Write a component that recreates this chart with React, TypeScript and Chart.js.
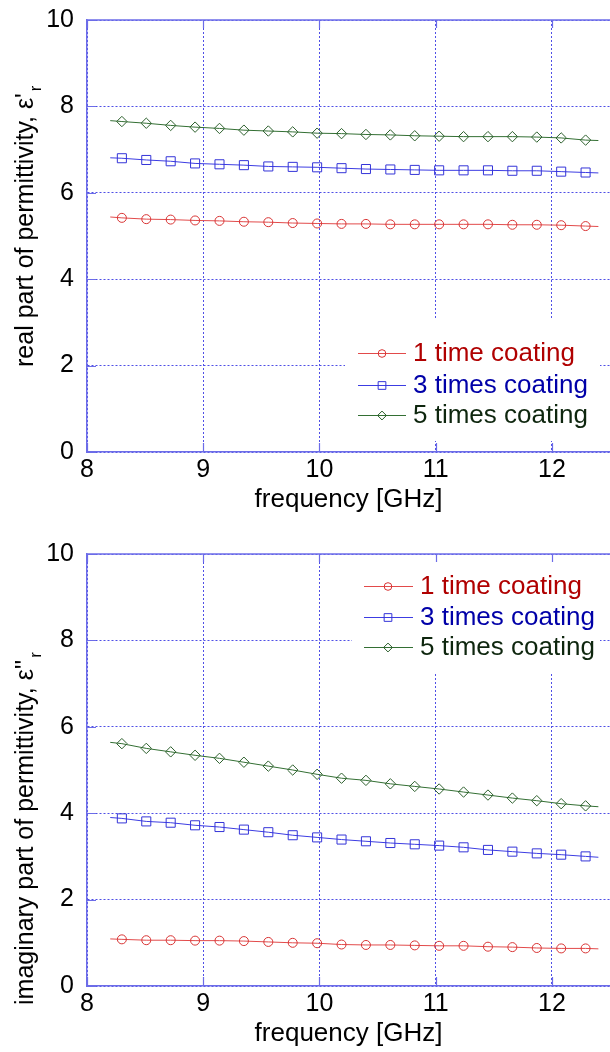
import React, { useEffect, useRef } from 'react';
import { Chart, registerables } from 'chart.js';

Chart.register(...registerables);

const FONT = "'Liberation Sans', Arial, Helvetica, sans-serif";

// frequency [GHz]: first and last entries are the line ends (no marker)
const frequency = [8.2, 8.30, 8.51, 8.72, 8.93, 9.14, 9.35, 9.56, 9.77, 9.98, 10.19, 10.40, 10.61, 10.82, 11.03, 11.24, 11.45, 11.66, 11.87, 12.08, 12.29, 12.4];
const xTicks = [8, 9, 10, 11, 12];
const yTicks = [0, 2, 4, 6, 8, 10];
const seriesNames = ['1 time coating', '3 times coating', '5 times coating'];

// real part of permittivity
const realOneCoat = [5.44, 5.42, 5.39, 5.38, 5.36, 5.35, 5.33, 5.32, 5.30, 5.29, 5.28, 5.28, 5.27, 5.27, 5.27, 5.27, 5.27, 5.26, 5.26, 5.25, 5.23, 5.22];
const realThreeCoat = [6.81, 6.80, 6.76, 6.73, 6.68, 6.66, 6.64, 6.61, 6.60, 6.59, 6.57, 6.55, 6.54, 6.53, 6.52, 6.52, 6.52, 6.51, 6.51, 6.49, 6.47, 6.46];
const realFiveCoat = [7.67, 7.65, 7.61, 7.56, 7.52, 7.49, 7.45, 7.43, 7.41, 7.38, 7.37, 7.35, 7.34, 7.32, 7.31, 7.30, 7.30, 7.30, 7.29, 7.27, 7.22, 7.21];

// imaginary part of permittivity
const imagOneCoat = [1.09, 1.08, 1.06, 1.06, 1.05, 1.05, 1.04, 1.02, 1.00, 0.99, 0.96, 0.95, 0.95, 0.94, 0.93, 0.93, 0.91, 0.90, 0.88, 0.87, 0.87, 0.86];
const imagThreeCoat = [3.90, 3.88, 3.81, 3.78, 3.72, 3.68, 3.62, 3.56, 3.49, 3.44, 3.39, 3.35, 3.31, 3.28, 3.25, 3.21, 3.15, 3.11, 3.07, 3.04, 3.00, 2.98];
const imagFiveCoat = [5.64, 5.61, 5.50, 5.42, 5.34, 5.27, 5.18, 5.09, 5.00, 4.90, 4.81, 4.76, 4.68, 4.62, 4.56, 4.49, 4.42, 4.35, 4.29, 4.22, 4.17, 4.15];

const LINE_COLORS = ['#e24a4a', '#3c3ce2', '#336f33'];
const MARKER_COLORS = ['#d83434', '#3434d8', '#2c5f2c'];
const TEXT_COLORS = ['#b00000', '#0000a8', '#0e260e'];
const POINT_STYLES = ['circle', 'rect', 'rectRot'];
const POINT_RADII = [4.5, 6.4, 5.2];
const GRID_COLOR = '#4f4fe6';
const AXIS_COLOR = '#6c6ce8';

const W = 610;
const H = 526;
const LEFT = 87;

function drawMarker(ctx: CanvasRenderingContext2D, style: string, x: number, y: number, r: number) {
  ctx.beginPath();
  if (style === 'circle') {
    ctx.arc(x, y, r, 0, Math.PI * 2);
  } else if (style === 'rect') {
    const s = r * Math.SQRT1_2;
    ctx.rect(x - s, y - s, 2 * s, 2 * s);
  } else {
    ctx.moveTo(x - r, y);
    ctx.lineTo(x, y - r);
    ctx.lineTo(x + r, y);
    ctx.lineTo(x, y + r);
    ctx.closePath();
  }
  ctx.stroke();
}

type LegendSpec = {
  box: [number, number, number, number]; // x0, y0, x1, y1 (canvas px)
  rows: number[];
  lineX0: number;
  lineX1: number;
  markerX: number;
  textX: number;
};

type PanelProps = {
  offsetTop: number;
  padTop: number;
  xAxisHeight: number;
  xTitlePad: number;
  series: number[][];
  yTitle: string;
  yTitleY: number;
  legend: LegendSpec;
};

function Panel(props: PanelProps) {
  const ref = useRef<HTMLCanvasElement>(null);
  useEffect(() => {
    const canvas = ref.current;
    if (!canvas) return;
    const { legend } = props;
    const overlay = {
      id: 'matlabOverlay',
      afterDatasetsDraw(chart: any) {
        const ctx: CanvasRenderingContext2D = chart.ctx;
        const area = chart.chartArea;
        const xs = chart.scales.x;
        const ys = chart.scales.y;
        ctx.save();
        // legend box
        ctx.fillStyle = '#ffffff';
        const [bx0, by0, bx1, by1] = legend.box;
        ctx.fillRect(bx0, by0, bx1 - bx0, by1 - by0);
        // inward tick marks
        ctx.strokeStyle = AXIS_COLOR;
        ctx.lineWidth = 1.2;
        ctx.setLineDash([]);
        ctx.beginPath();
        xTicks.forEach((v) => {
          const px = Math.round(xs.getPixelForValue(v)) + 0.5;
          ctx.moveTo(px, area.bottom);
          ctx.lineTo(px, area.bottom - 9);
          ctx.moveTo(px, area.top);
          ctx.lineTo(px, area.top + 8);
        });
        yTicks.forEach((v) => {
          const py = Math.round(ys.getPixelForValue(v)) + 0.5;
          ctx.moveTo(area.left, py);
          ctx.lineTo(area.left + 9, py);
        });
        ctx.stroke();
        // solid top border
        ctx.lineWidth = 1.5;
        ctx.beginPath();
        ctx.moveTo(area.left, area.top);
        ctx.lineTo(area.right, area.top);
        ctx.stroke();
        // legend entries
        legend.rows.forEach((y, i) => {
          ctx.strokeStyle = LINE_COLORS[i];
          ctx.lineWidth = 1;
          ctx.beginPath();
          ctx.moveTo(legend.lineX0, y + 0.5);
          ctx.lineTo(legend.lineX1, y + 0.5);
          ctx.stroke();
          ctx.strokeStyle = MARKER_COLORS[i];
          drawMarker(ctx, POINT_STYLES[i], legend.markerX, y + 0.5, POINT_RADII[i] * 0.85);
          ctx.fillStyle = TEXT_COLORS[i];
          ctx.font = `26px ${FONT}`;
          ctx.textAlign = 'left';
          ctx.textBaseline = 'middle';
          ctx.fillText(seriesNames[i], legend.textX, y + 1);
        });
        // y-axis title with subscript r
        ctx.translate(33, props.yTitleY);
        ctx.rotate(-Math.PI / 2);
        ctx.fillStyle = '#000';
        ctx.font = `25px ${FONT}`;
        ctx.textAlign = 'left';
        ctx.textBaseline = 'alphabetic';
        ctx.fillText(props.yTitle, 0, 0);
        const w = ctx.measureText(props.yTitle).width;
        ctx.font = `17px ${FONT}`;
        ctx.fillText('r', w + 2, 8);
        ctx.restore();
      },
    };

    const chart = new Chart(canvas, {
      type: 'line',
      data: {
        datasets: props.series.map((vals, i) => ({
          label: seriesNames[i],
          data: frequency.map((f, j) => ({ x: f, y: vals[j] })),
          borderColor: LINE_COLORS[i],
          borderWidth: 1,
          pointStyle: POINT_STYLES[i] as any,
          pointRadius: (c: any) => (c.dataIndex === 0 || c.dataIndex === frequency.length - 1 ? 0 : POINT_RADII[i]),
          pointBorderColor: MARKER_COLORS[i],
          pointBackgroundColor: 'rgba(0,0,0,0)',
          pointBorderWidth: 1,
          tension: 0,
          fill: false,
        })),
      },
      options: {
        responsive: false,
        animation: false,
        events: [],
        layout: { padding: { top: props.padTop, left: 0, right: 0, bottom: 0 } },
        plugins: { legend: { display: false }, tooltip: { enabled: false }, title: { display: false } },
        scales: {
          x: {
            type: 'linear',
            min: 8,
            max: 12.5,
            afterBuildTicks: (s: any) => {
              s.ticks = xTicks.map((v) => ({ value: v }));
            },
            afterFit: (s: any) => {
              s.height = props.xAxisHeight;
              s.paddingRight = 0;
            },
            ticks: {
              font: { family: FONT, size: 25 },
              color: '#000',
              padding: 3,
              maxRotation: 0,
              autoSkip: false,
            },
            grid: { color: GRID_COLOR, lineWidth: 1, drawTicks: false },
            border: { color: AXIS_COLOR, width: 1.5, dash: [2, 2] },
            title: {
              display: true,
              text: 'frequency [GHz]',
              color: '#000',
              font: { family: FONT, size: 26 },
              padding: { top: 0, bottom: props.xTitlePad },
            },
          },
          y: {
            type: 'linear',
            min: 0,
            max: 10,
            afterBuildTicks: (s: any) => {
              s.ticks = yTicks.map((v) => ({ value: v }));
            },
            afterFit: (s: any) => {
              s.width = LEFT;
              s.paddingTop = 0;
              s.paddingBottom = 0;
            },
            ticks: {
              font: { family: FONT, size: 25 },
              color: '#000',
              padding: 13,
            },
            grid: { color: GRID_COLOR, lineWidth: 1, drawTicks: false },
            border: { color: AXIS_COLOR, width: 1.5, dash: [2, 2] },
          },
        },
      } as any,
      plugins: [overlay],
    });
    return () => chart.destroy();
  }, []);
  return (
    <canvas
      ref={ref}
      width={W}
      height={H}
      style={{ position: 'absolute', left: 0, top: props.offsetTop, width: W, height: H }}
    />
  );
}

export default function App() {
  return (
    <div style={{ position: 'absolute', left: 0, top: 0, width: W, height: 2 * H, background: '#fff' }}>
      <Panel
        offsetTop={0}
        padTop={20}
        xAxisHeight={74}
        xTitlePad={11}
        series={[realOneCoat, realThreeCoat, realFiveCoat]}
        yTitle={"real part of permittivity, \u03B5'"}
        yTitleY={367}
        legend={{ box: [345, 318, 600, 441], rows: [353, 385, 415], lineX0: 358, lineX1: 406, markerX: 382, textX: 413 }}
      />
      <Panel
        offsetTop={H}
        padTop={28}
        xAxisHeight={66}
        xTitlePad={3}
        series={[imagOneCoat, imagThreeCoat, imagFiveCoat]}
        yTitle={"imaginary part of permittivity, \u03B5''"}
        yTitleY={479}
        legend={{ box: [352, 29, 600, 146], rows: [60, 91, 121], lineX0: 364, lineX1: 413, markerX: 388, textX: 420 }}
      />
    </div>
  );
}
